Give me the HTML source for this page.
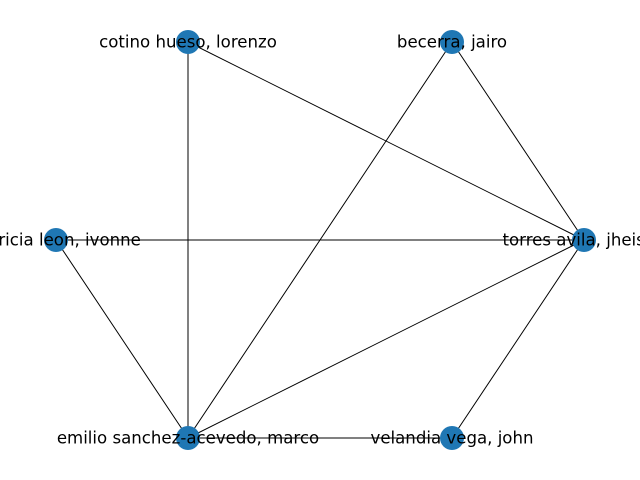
<!DOCTYPE html>
<html><head><meta charset="utf-8"><style>
html,body{margin:0;padding:0;background:#fff;}
svg{display:block;}
text{font-family:"DejaVu Sans","Liberation Sans",sans-serif;font-size:16.6px;fill:#000;}
</style></head><body>
<svg width="640" height="480" viewBox="0 0 640 480" xmlns="http://www.w3.org/2000/svg">
<g stroke="#000" stroke-width="1">
<line x1="188" y1="42" x2="584" y2="240"/>
<line x1="188" y1="42" x2="188" y2="438"/>
<line x1="452" y1="42" x2="188" y2="438"/>
<line x1="452" y1="42" x2="584" y2="240"/>
<line x1="56" y1="240" x2="584" y2="240"/>
<line x1="56" y1="240" x2="188" y2="438"/>
<line x1="584" y1="240" x2="188" y2="438"/>
<line x1="584" y1="240" x2="452" y2="438"/>
<line x1="188" y1="438" x2="452" y2="438"/>
</g>
<g fill="#1f77b4">
<circle cx="188" cy="42" r="12"/>
<circle cx="452" cy="42" r="12"/>
<circle cx="56" cy="240" r="12"/>
<circle cx="584" cy="240" r="12"/>
<circle cx="188" cy="438" r="12"/>
<circle cx="452" cy="438" r="12"/>
</g>
<g text-anchor="middle" dominant-baseline="central">
<text x="188" y="42">cotino hueso, lorenzo</text>
<text x="452" y="42">becerra, jairo</text>
<text x="56" y="240">patricia leon, ivonne</text>
<text x="584" y="240">torres avila, jheison</text>
<text x="188" y="438">emilio sanchez-acevedo, marco</text>
<text x="452" y="438">velandia vega, john</text>
</g>
</svg>
</body></html>
